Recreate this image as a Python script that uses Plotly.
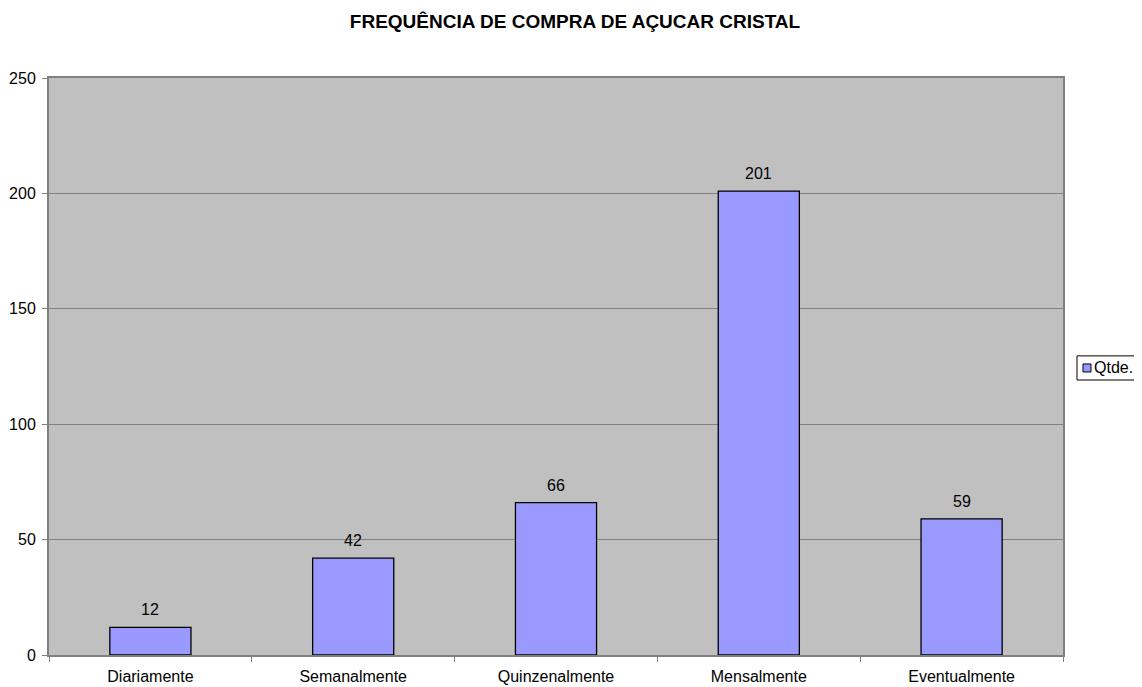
import plotly.graph_objects as go

categories = ["Diariamente", "Semanalmente", "Quinzenalmente", "Mensalmente", "Eventualmente"]
values = [12, 42, 66, 201, 59]
series_name = "Qtde."
title = "FREQUÊNCIA DE COMPRA DE AÇUCAR CRISTAL"

FONT = "Liberation Sans, Arial, sans-serif"
BAR_COLOR = "#9999FF"

fig = go.Figure()
fig.add_trace(go.Bar(
    x=categories, y=values, name=series_name,
    marker=dict(color=BAR_COLOR, line=dict(color="#000000", width=1.3)),
    width=0.4,
    showlegend=False,
))

for c, v in zip(categories, values):
    fig.add_annotation(x=c, y=v, text=str(v), showarrow=False,
                       yanchor="bottom", yshift=7,
                       font=dict(family=FONT, size=16, color="#000000"))

# compact legend (box, swatch, label) to the right of the plot area
fig.add_shape(type="rect", xref="paper", yref="paper",
              x0=1.0138, x1=1.0759, y0=0.4766, y1=0.5184,
              line=dict(color="#000000", width=1), fillcolor="#FFFFFF", layer="above")
fig.add_shape(type="rect", xref="paper", yref="paper",
              x0=1.0197, x1=1.0276, y0=0.4905, y1=0.5044,
              line=dict(color="#000000", width=1), fillcolor=BAR_COLOR, layer="above")
fig.add_annotation(xref="paper", yref="paper", x=1.0286, y=0.4975, text=series_name,
                   showarrow=False, xanchor="left", yanchor="middle",
                   font=dict(family=FONT, size=16, color="#000000"))

fig.update_layout(
    width=1134, height=679,
    margin=dict(l=41, r=79, t=70, b=32, autoexpand=False),
    paper_bgcolor="#FFFFFF",
    plot_bgcolor="#C0C0C0",
    font=dict(family=FONT, size=16, color="#000000"),
    title=dict(text="<b>" + title + "</b>", x=0.5, xanchor="center", y=0.981, yanchor="middle",
               font=dict(size=19, family=FONT, color="#000000")),
    showlegend=False,
    bargap=0.6,
)
fig.update_xaxes(
    showline=True, linecolor="#808080", linewidth=2, mirror=True,
    ticks="outside", tickson="boundaries", ticklen=5, tickcolor="#808080",
    showgrid=False, tickfont=dict(size=16), ticklabelstandoff=6,
)
fig.update_yaxes(
    range=[0, 250], tick0=0, dtick=50,
    showline=True, linecolor="#808080", linewidth=2, mirror=True,
    ticks="outside", ticklen=5, tickcolor="#808080",
    showgrid=True, gridcolor="#808080", gridwidth=1,
    zeroline=False, tickfont=dict(size=16), ticklabelstandoff=3,
)

fig.write_html("out.html")
